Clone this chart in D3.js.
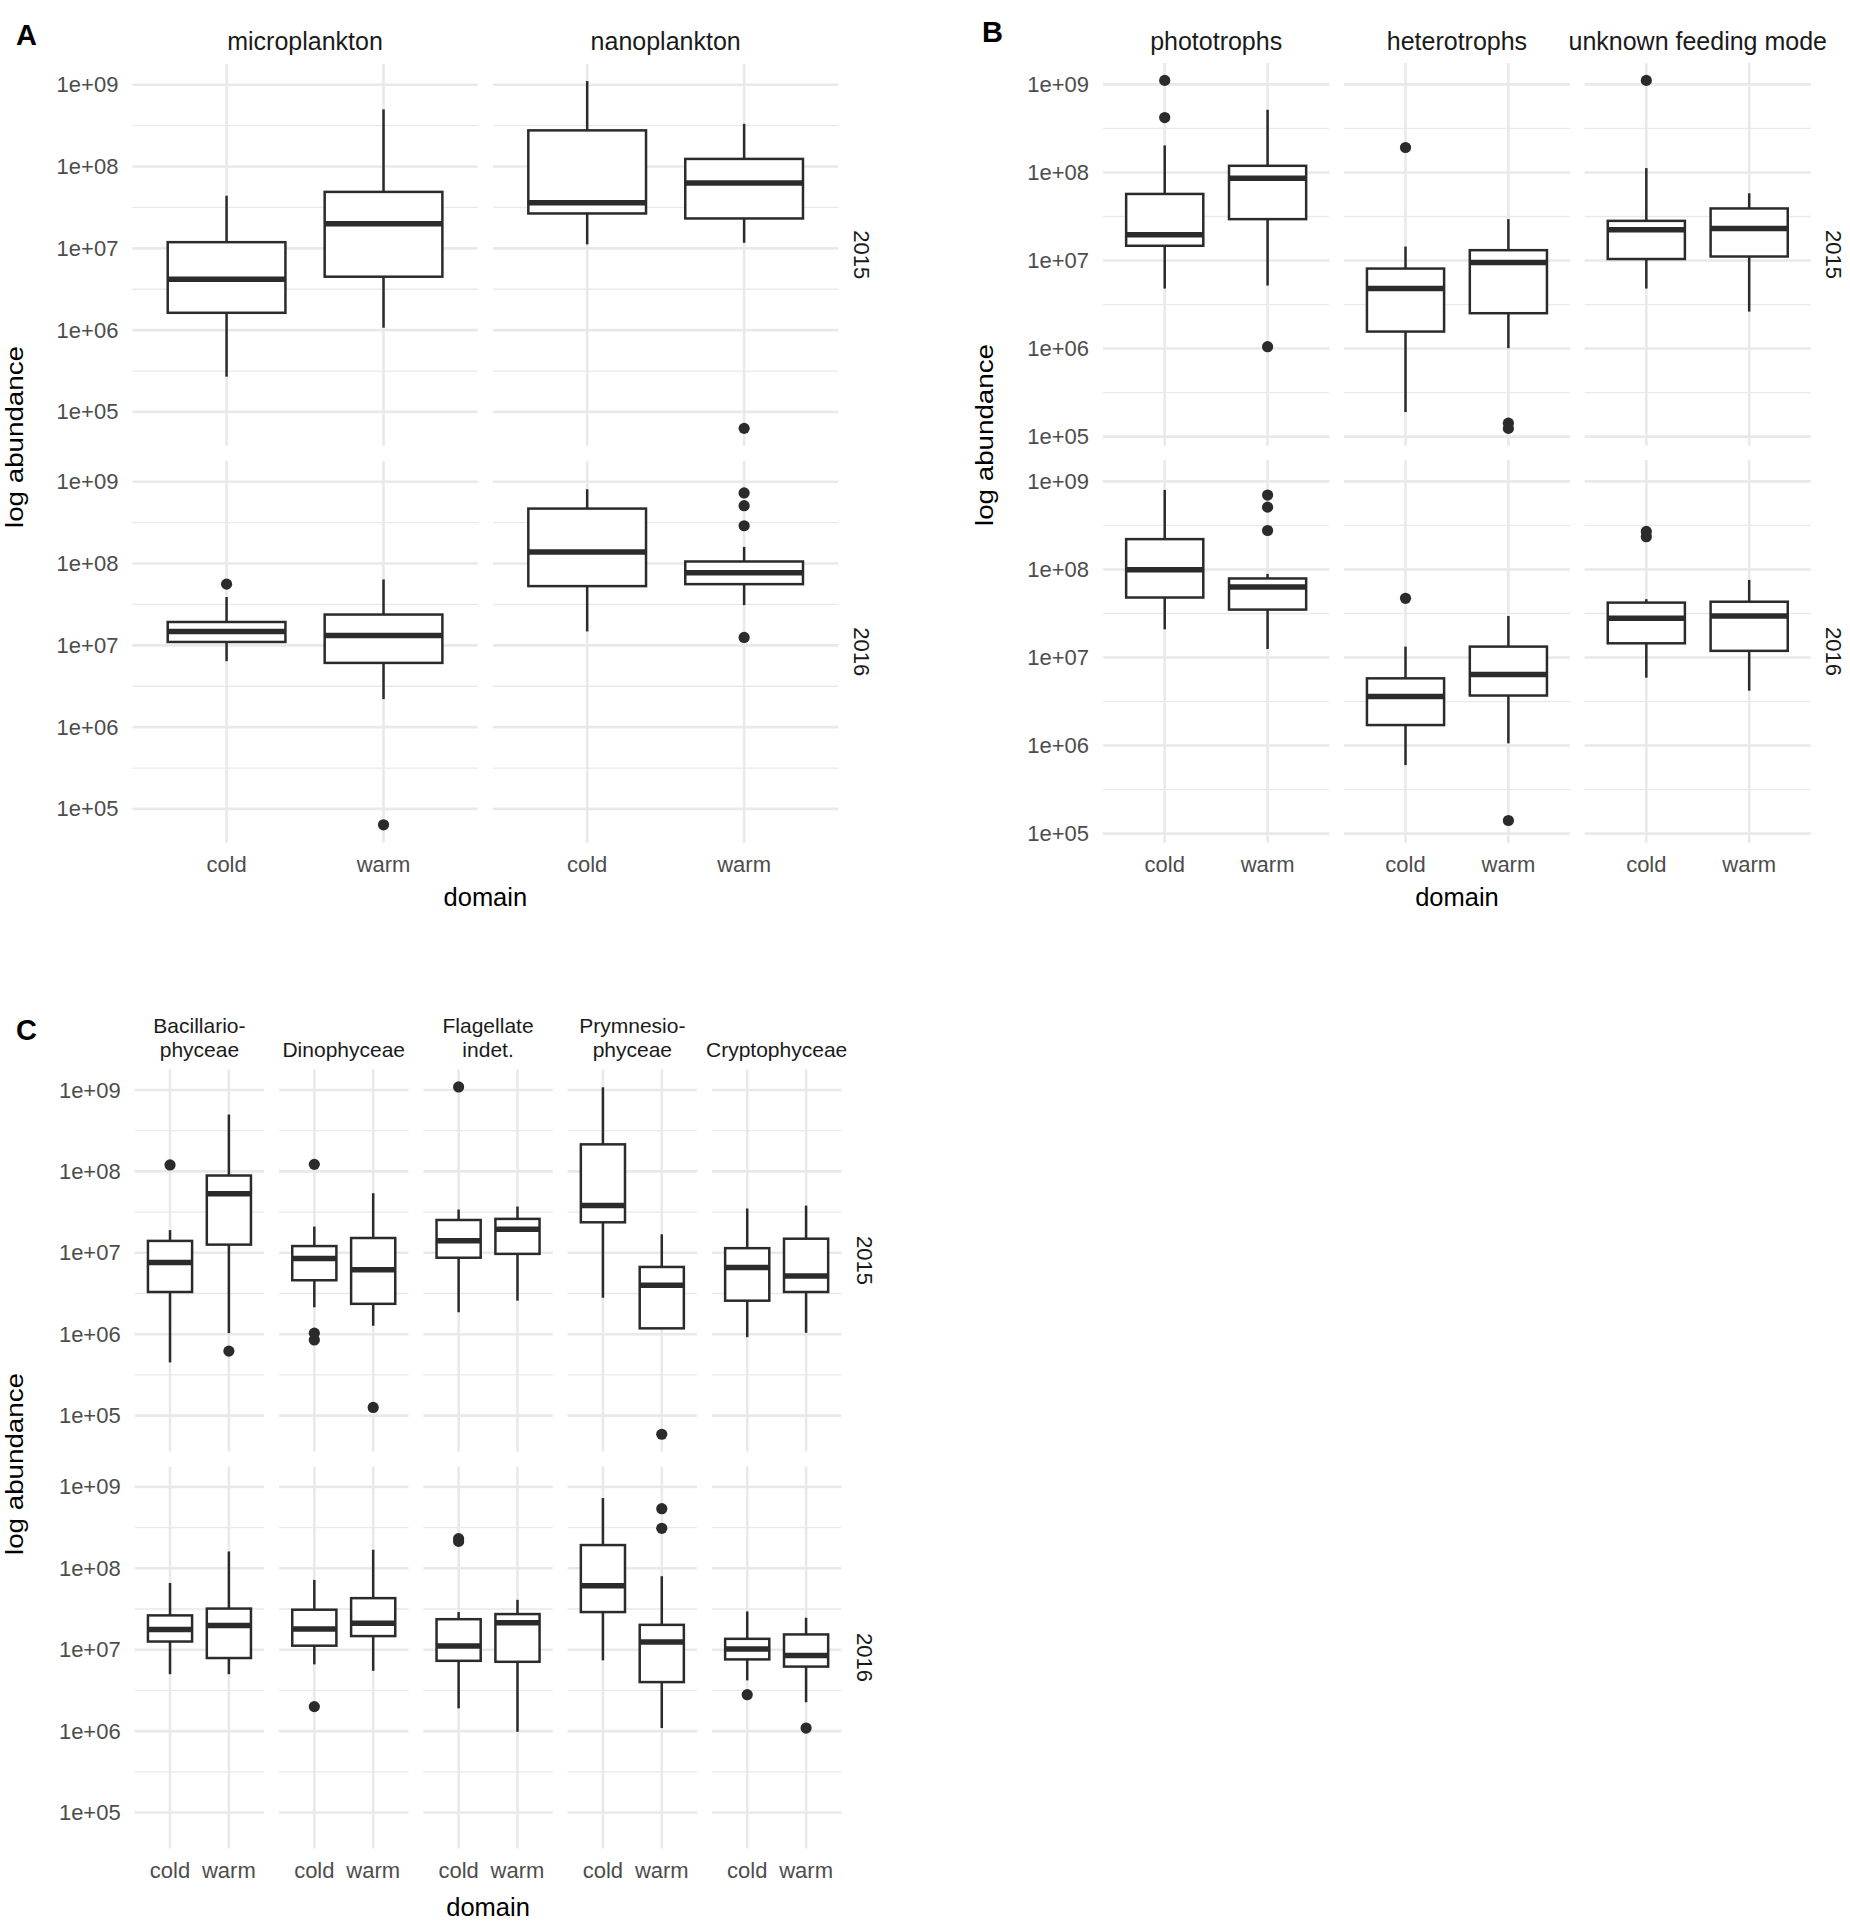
<!DOCTYPE html>
<html>
<head>
<meta charset="utf-8">
<script src="https://cdn.jsdelivr.net/npm/d3@7"></script>
<style>
  body { margin: 0; background: #fff; }
</style>
</head>
<body>
<svg id="fig"></svg>
<script>
// Boxplots of log abundance by domain (cold / warm), faceted by group and year.
// Box stats are [lower whisker, Q1, median, Q3, upper whisker], ordered group x domain.

const domainsX = ["cold", "warm"];
const yearRows = ["2015", "2016"];
const yTicks = [1e5, 1e6, 1e7, 1e8, 1e9];

// A: size classes
const sizeClasses = ["microplankton", "nanoplankton"];
const sizeBox2015 = [
  [2.7e5, 1.63e6, 4.2e6, 1.19e7, 4.4e7],
  [1.07e6, 4.5e6, 2.0e7, 4.9e7, 5.0e8],
  [1.12e7, 2.67e7, 3.6e7, 2.77e8, 1.11e9],
  [1.17e7, 2.32e7, 6.3e7, 1.24e8, 3.33e8]
];
const sizeOut2015 = [[], [], [], [6.3e4]];
const sizeBox2016 = [
  [6.4e6, 1.10e7, 1.48e7, 1.93e7, 3.9e7],
  [2.2e6, 6.1e6, 1.32e7, 2.38e7, 6.4e7],
  [1.48e7, 5.3e7, 1.38e8, 4.7e8, 8.1e8],
  [3.1e7, 5.6e7, 7.7e7, 1.06e8, 1.6e8]
];
const sizeOut2016 = [[5.6e7], [6.4e4], [], [7.3e8, 5.1e8, 2.9e8, 1.25e7]];

// B: feeding modes
const feedingModes = ["phototrophs", "heterotrophs", "unknown feeding mode"];
const feedBox2015 = [
  [4.8e6, 1.47e7, 1.96e7, 5.7e7, 2.03e8],
  [5.2e6, 2.95e7, 8.6e7, 1.19e8, 5.15e8],
  [1.9e5, 1.56e6, 4.8e6, 8.1e6, 1.44e7],
  [1.01e6, 2.52e6, 9.5e6, 1.31e7, 2.95e7],
  [4.8e6, 1.04e7, 2.23e7, 2.82e7, 1.12e8],
  [2.63e6, 1.11e7, 2.31e7, 3.9e7, 5.8e7]
];
const feedOut2015 = [[1.11e9, 4.2e8], [1.05e6], [1.92e8], [1.42e5, 1.24e5], [1.11e9], []];
const feedBox2016 = [
  [2.09e7, 4.8e7, 9.9e7, 2.21e8, 8.0e8],
  [1.25e7, 3.5e7, 6.3e7, 7.9e7, 8.9e7],
  [6.0e5, 1.71e6, 3.6e6, 5.8e6, 1.33e7],
  [1.06e6, 3.7e6, 6.4e6, 1.33e7, 2.96e7],
  [5.9e6, 1.45e7, 2.79e7, 4.2e7, 4.6e7],
  [4.2e6, 1.19e7, 2.96e7, 4.3e7, 7.6e7]
];
const feedOut2016 = [[], [7.0e8, 5.1e8, 2.77e8], [4.7e7], [1.41e5], [2.7e8, 2.35e8], []];

// C: taxonomic classes
const taxa = ["Bacillario-\nphyceae", "Dinophyceae", "Flagellate\nindet.", "Prymnesio-\nphyceae", "Cryptophyceae"];
const taxaBox2015 = [
  [4.5e5, 3.3e6, 7.6e6, 1.40e7, 1.9e7],
  [1.03e6, 1.26e7, 5.3e7, 8.9e7, 5.0e8],
  [2.14e6, 4.6e6, 8.5e6, 1.21e7, 2.1e7],
  [1.27e6, 2.36e6, 6.2e6, 1.52e7, 5.4e7],
  [1.86e6, 8.7e6, 1.41e7, 2.53e7, 3.4e7],
  [2.58e6, 9.7e6, 1.95e7, 2.61e7, 3.7e7],
  [2.8e6, 2.37e7, 3.8e7, 2.15e8, 1.08e9],
  [1.18e6, 1.18e6, 4.0e6, 6.7e6, 1.69e7],
  [9.2e5, 2.58e6, 6.6e6, 1.14e7, 3.5e7],
  [1.04e6, 3.3e6, 5.2e6, 1.49e7, 3.8e7]
];
const taxaOut2015 = [[1.2e8], [6.2e5], [1.22e8, 1.03e6, 8.5e5], [1.26e5], [1.09e9], [], [], [5.9e4], [], []];
const taxaBox2016 = [
  [5.0e6, 1.26e7, 1.77e7, 2.64e7, 6.6e7],
  [5.0e6, 7.9e6, 1.98e7, 3.2e7, 1.61e8],
  [6.6e6, 1.12e7, 1.80e7, 3.1e7, 7.2e7],
  [5.5e6, 1.47e7, 2.12e7, 4.3e7, 1.69e8],
  [1.9e6, 7.3e6, 1.11e7, 2.37e7, 2.9e7],
  [9.8e5, 7.1e6, 2.14e7, 2.74e7, 4.1e7],
  [7.4e6, 2.9e7, 6.1e7, 1.93e8, 7.3e8],
  [1.09e6, 4.0e6, 1.24e7, 2.02e7, 8.0e7],
  [4.2e6, 7.6e6, 1.02e7, 1.36e7, 2.95e7],
  [2.26e6, 6.2e6, 8.5e6, 1.54e7, 2.47e7]
];
const taxaOut2016 = [[], [], [2.0e6], [], [2.31e8, 2.14e8], [], [], [5.4e8, 3.1e8], [2.8e6], [1.09e6]];

const FONT = '"Liberation Sans", Arial, Helvetica, sans-serif';
const INK = "#2b2b2b";
const GRID = "#e9e9e9";

const svg = d3.select("#fig").attr("width", 1850).attr("height", 1923);
svg.append("rect").attr("width", 1850).attr("height", 1923).attr("fill", "#fff");

function drawFigure(f) {
  const g = svg.append("g").attr("font-family", FONT);

  // ggplot style: log range of data + 5% on each side
  const values = f.box.flat(2).concat(f.out.flat(2));
  const lo = Math.log10(d3.min(values)), hi = Math.log10(d3.max(values));
  const pad = (hi - lo) * 0.05;
  const yDomain = [Math.pow(10, lo - pad), Math.pow(10, hi + pad)];
  const minors = d3.range(Math.floor(lo - pad), Math.ceil(hi + pad))
    .map(k => Math.pow(10, k + 0.5))
    .filter(v => v > yDomain[0] && v < yDomain[1]);

  const n = f.cats.length;
  const totalW = n * f.panelW + (n - 1) * f.gapX;
  const fx = d3.scaleBand().domain(f.cats)
    .range([f.x0, f.x0 + totalW])
    .paddingInner(f.gapX / (f.panelW + f.gapX));
  const x = d3.scalePoint().domain(domainsX).range([0, fx.bandwidth()]).padding(0.6);
  const boxW = x.step() * 0.75;
  const right = f.x0 + totalW;

  yearRows.forEach((yr, r) => {
    const top = f.rowTop[r];
    const bottom = top + f.panelH;
    const y = d3.scaleLog().domain(yDomain).range([bottom, top]);

    // y axis labels
    const ax = g.append("g")
      .attr("transform", `translate(${f.x0},0)`)
      .call(d3.axisLeft(y).tickValues(yTicks).tickSize(0).tickPadding(14)
        .tickFormat(d => "1e+" + d3.format("02d")(Math.round(Math.log10(d)))));
    ax.attr("font-family", FONT).attr("font-size", f.tickSize);
    ax.select(".domain").remove();
    ax.selectAll("text").attr("fill", "#4d4d4d");

    f.cats.forEach((cat, c) => {
      const p = g.append("g").attr("transform", `translate(${fx(cat)},0)`);
      const w = fx.bandwidth();

      p.selectAll("line.minor").data(minors).join("line")
        .attr("class", "minor")
        .attr("x1", 0).attr("x2", w)
        .attr("y1", d => y(d)).attr("y2", d => y(d))
        .attr("stroke", GRID).attr("stroke-width", 1.3);
      p.selectAll("line.major").data(yTicks).join("line")
        .attr("class", "major")
        .attr("x1", 0).attr("x2", w)
        .attr("y1", d => y(d)).attr("y2", d => y(d))
        .attr("stroke", GRID).attr("stroke-width", 2.6);
      p.selectAll("line.vgrid").data(domainsX).join("line")
        .attr("class", "vgrid")
        .attr("x1", d => x(d)).attr("x2", d => x(d))
        .attr("y1", top).attr("y2", bottom)
        .attr("stroke", GRID).attr("stroke-width", 2.6);

      domainsX.forEach((dm, k) => {
        const s = f.box[r][c * 2 + k];
        const o = f.out[r][c * 2 + k];
        const cx = x(dm);
        const bx = p.append("g");
        bx.append("line")
          .attr("x1", cx).attr("x2", cx).attr("y1", y(s[0])).attr("y2", y(s[1]))
          .attr("stroke", INK).attr("stroke-width", 2.5);
        bx.append("line")
          .attr("x1", cx).attr("x2", cx).attr("y1", y(s[3])).attr("y2", y(s[4]))
          .attr("stroke", INK).attr("stroke-width", 2.5);
        bx.append("rect")
          .attr("x", cx - boxW / 2).attr("width", boxW)
          .attr("y", y(s[3])).attr("height", y(s[1]) - y(s[3]))
          .attr("fill", "#fff").attr("stroke", INK).attr("stroke-width", 2.5);
        bx.append("line")
          .attr("x1", cx - boxW / 2).attr("x2", cx + boxW / 2)
          .attr("y1", y(s[2])).attr("y2", y(s[2]))
          .attr("stroke", INK).attr("stroke-width", 5.5);
        bx.selectAll("circle").data(o).join("circle")
          .attr("cx", cx).attr("cy", d => y(d)).attr("r", 5.6)
          .attr("fill", INK);
      });

      // top strip labels (only first row)
      if (r === 0) {
        const lines = cat.split("\n");
        const t = g.append("text")
          .attr("text-anchor", "middle")
          .attr("font-size", f.stripSize)
          .attr("fill", "#1a1a1a");
        lines.forEach((ln, i) => {
          t.append("tspan")
            .attr("x", fx(cat) + w / 2)
            .attr("y", f.stripBase - f.lineH * (lines.length - 1 - i))
            .text(ln);
        });
      }
      // x tick labels (only bottom row)
      if (r === yearRows.length - 1) {
        p.selectAll("text.xt").data(domainsX).join("text")
          .attr("class", "xt")
          .attr("x", d => x(d)).attr("y", bottom + 29.5)
          .attr("text-anchor", "middle")
          .attr("font-size", f.tickSize)
          .attr("fill", "#4d4d4d")
          .text(d => d);
      }
    });

    // right strip (year)
    const yc = (top + bottom) / 2;
    g.append("text")
      .attr("x", right + 23).attr("y", yc)
      .attr("dy", "0.35em")
      .attr("text-anchor", "middle")
      .attr("transform", `rotate(90,${right + 23},${yc})`)
      .attr("font-size", f.tickSize)
      .attr("fill", "#1a1a1a")
      .text(yr);
  });

  // axis titles
  g.append("text")
    .attr("x", (f.x0 + right) / 2).attr("y", f.rowTop[1] + f.panelH + f.xTitleGap)
    .attr("text-anchor", "middle")
    .attr("font-size", 25.5)
    .attr("fill", "#000")
    .text("domain");
  g.append("text")
    .attr("transform", `translate(${f.yTitleX},${f.yTitleY}) rotate(-90)`)
    .attr("text-anchor", "middle")
    .attr("font-size", 23.5)
    .attr("textLength", 182)
    .attr("lengthAdjust", "spacingAndGlyphs")
    .attr("fill", "#000")
    .text("log abundance");

  // panel letter
  g.append("text")
    .attr("x", f.labelX).attr("y", f.labelY)
    .attr("font-size", 29).attr("font-weight", "bold")
    .attr("fill", "#000")
    .text(f.label);
}

drawFigure({
  label: "A", labelX: 16, labelY: 45,
  cats: sizeClasses,
  box: [sizeBox2015, sizeBox2016], out: [sizeOut2015, sizeOut2016],
  x0: 132.4, panelW: 345.3, gapX: 15.3,
  rowTop: [63.7, 460.7], panelH: 382,
  tickSize: 22, stripSize: 25, stripBase: 50, lineH: 0,
  xTitleGap: 63, yTitleX: 22.5, yTitleY: 437
});

drawFigure({
  label: "B", labelX: 982, labelY: 42,
  cats: feedingModes,
  box: [feedBox2015, feedBox2016], out: [feedOut2015, feedOut2016],
  x0: 1103, panelW: 226.3, gapX: 14.5,
  rowTop: [63, 460], panelH: 382.8,
  tickSize: 22, stripSize: 25, stripBase: 49.5, lineH: 0,
  xTitleGap: 63, yTitleX: 993, yTitleY: 435
});

drawFigure({
  label: "C", labelX: 16, labelY: 1040,
  cats: taxa,
  box: [taxaBox2015, taxaBox2016], out: [taxaOut2015, taxaOut2016],
  x0: 134.7, panelW: 129.5, gapX: 14.8,
  rowTop: [1069.6, 1466.5], panelH: 382,
  tickSize: 22, stripSize: 21, stripBase: 1056.5, lineH: 23.3,
  xTitleGap: 67, yTitleX: 23, yTitleY: 1464
});
</script>
</body>
</html>
